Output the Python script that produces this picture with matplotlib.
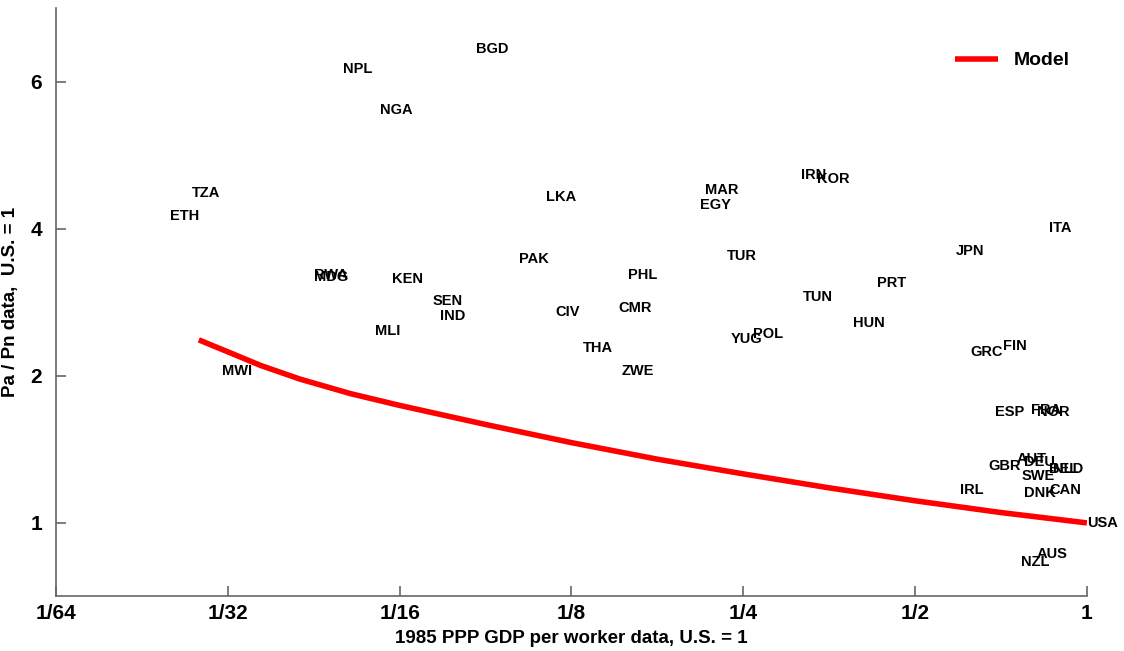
import numpy as np
import matplotlib
matplotlib.use("Agg")
import matplotlib.pyplot as plt

plt.rcParams['font.family'] = ['Liberation Sans', 'DejaVu Sans']

# country data: GDP per worker (U.S. = 1) and Pa/Pn (U.S. = 1)
countries = ["BGD", "NPL", "NGA", "TZA", "ETH", "LKA", "MAR", "EGY", "IRN", "KOR",
             "ITA", "JPN", "RWA", "MDG", "KEN", "PAK", "TUR", "PHL", "PRT", "TUN",
             "SEN", "IND", "CIV", "CMR", "HUN", "MLI", "YUG", "POL", "THA", "GRC",
             "FIN", "MWI", "ZWE", "ESP", "FRA", "NOR", "GBR", "AUT", "DEU", "SWE",
             "BEL", "NLD", "CAN", "DNK", "IRL", "USA", "AUS", "NZL"]
gdp = [0.085, 0.0497, 0.0577, 0.0270, 0.0248, 0.1127, 0.214, 0.210, 0.315, 0.336,
       0.858, 0.590, 0.0442, 0.0442, 0.0606, 0.101, 0.234, 0.157, 0.429, 0.318,
       0.0715, 0.0735, 0.117, 0.151, 0.390, 0.0566, 0.238, 0.260, 0.131, 0.626,
       0.713, 0.0305, 0.153, 0.690, 0.798, 0.817, 0.673, 0.754, 0.775, 0.769,
       0.858, 0.872, 0.861, 0.775, 0.599, 1.0, 0.817, 0.766]
price = [9.35, 8.51, 7.01, 4.74, 4.25, 4.65, 4.81, 4.48, 5.16, 5.06,
         4.02, 3.61, 3.21, 3.19, 3.15, 3.47, 3.52, 3.22, 3.10, 2.90,
         2.85, 2.65, 2.70, 2.76, 2.56, 2.47, 2.38, 2.44, 2.28, 2.24,
         2.30, 2.05, 2.05, 1.69, 1.70, 1.69, 1.31, 1.35, 1.33, 1.25,
         1.29, 1.29, 1.17, 1.15, 1.17, 1.0, 0.864, 0.832]

# model curve
model_x = [0.0278, 0.03125, 0.0357, 0.0418, 0.0512, 0.0625, 0.0885, 0.125,
           0.177, 0.25, 0.353, 0.5, 0.707, 1.0]
model_y = [2.37, 2.24, 2.10, 1.97, 1.84, 1.74, 1.59, 1.46,
           1.35, 1.26, 1.18, 1.11, 1.05, 1.0]

xticks = [1/64, 1/32, 1/16, 1/8, 1/4, 1/2, 1]
xticklabels = ["1/64", "1/32", "1/16", "1/8", "1/4", "1/2", "1"]
yticks = [1, 2, 4, 8]
yticklabels = ["1", "2", "4", "6"]

fig = plt.figure(figsize=(11.24, 6.51), dpi=100)
ax = fig.add_axes([0.0498, 0.0845, 0.9172, 0.9035])

ax.plot(model_x, model_y, color="red", lw=4, label="Model", solid_capstyle="butt")
for c, x, y in zip(countries, gdp, price):
    ax.text(x, y, c, ha="left", va="center", fontsize=10.5, fontweight="bold")

ax.set_xscale("log", base=2)
ax.set_yscale("log", base=2)
ax.set_xlim(1/64, 1)
ax.set_ylim(2 ** -0.497, 2 ** 3.503)
ax.set_xticks(xticks)
ax.set_xticklabels(xticklabels)
ax.set_yticks(yticks)
ax.set_yticklabels(yticklabels)
ax.minorticks_off()

for s in ["top", "right"]:
    ax.spines[s].set_visible(False)
for s in ["left", "bottom"]:
    ax.spines[s].set_color("#666666")
    ax.spines[s].set_linewidth(1.2)
ax.tick_params(direction="in", length=7, width=1.2, color="#666666",
               labelsize=15)
ax.tick_params(axis="x", pad=6)
ax.tick_params(axis="y", pad=10)
for lbl in ax.get_xticklabels() + ax.get_yticklabels():
    lbl.set_fontweight("bold")

ax.set_xlabel("1985 PPP GDP per worker data, U.S. = 1", fontsize=13.5,
              fontweight="bold", labelpad=5)
ax.set_ylabel("Pa / Pn data,  U.S. = 1", fontsize=13.5, fontweight="bold",
              labelpad=8)

leg = ax.legend(loc="upper right", frameon=False, fontsize=14,
                handlelength=2.2, bbox_to_anchor=(1.0, 0.955))
for t in leg.get_texts():
    t.set_fontweight("bold")

fig.savefig("out.png", dpi=100)
